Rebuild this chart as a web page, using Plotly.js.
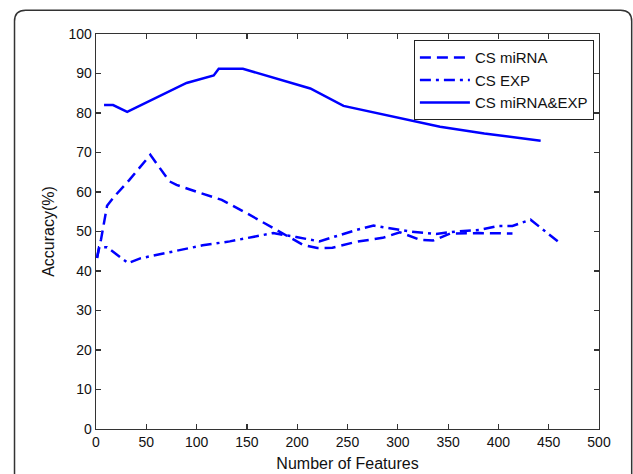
<!DOCTYPE html>
<html>
<head>
<meta charset="utf-8">
<script src="https://cdn.plot.ly/plotly-3.0.1.min.js"></script>
<style>html,body{margin:0;padding:0;background:#fff;}#chart{width:633px;height:474px;}</style>
</head>
<body>
<div id="chart"></div>
<script>
// Series names
const seriesNames = ["CS miRNA", "CS EXP", "CS miRNA&EXP"];

// CS miRNA (dashed)
const mirnaX = [1, 5, 11, 18, 33, 54, 73, 80, 103, 125, 150, 183, 206, 220, 235, 259, 285, 302, 322, 335, 352, 381, 414];
const mirnaY = [43.3, 48, 56.5, 58.8, 63, 69.4, 62.7, 61.8, 59.8, 58, 54.6, 50, 46.6, 45.8, 45.9, 47.4, 48.4, 49.8, 47.9, 47.7, 49.5, 49.6, 49.5];

// CS EXP (dash-dot)
const expX = [1, 3, 11, 32, 44, 76, 106, 133, 150, 176, 199, 222, 259, 276, 292, 312, 338, 358, 381, 400, 414, 432, 459];
const expY = [43.3, 46, 46, 42, 43.2, 44.9, 46.5, 47.5, 48.3, 49.6, 48.6, 47.5, 50.4, 51.5, 50.8, 50, 49.4, 50, 50.4, 51.4, 51.4, 53, 47.5];

// CS miRNA&EXP (solid)
const bothX = [8, 17, 31, 53, 70, 90, 117, 122, 146, 180, 213, 246, 270, 302, 342, 386, 442];
const bothY = [82, 82, 80.3, 83, 85, 87.6, 89.5, 91.2, 91.2, 88.6, 86.2, 81.8, 80.5, 78.7, 76.5, 74.8, 73];

// Axis ticks
const xTicks = [0, 50, 100, 150, 200, 250, 300, 350, 400, 450, 500];
const yTicks = [0, 10, 20, 30, 40, 50, 60, 70, 80, 90, 100];

const blue = "#0000ff";
const traces = [
  {x: mirnaX, y: mirnaY, name: seriesNames[0], mode: "lines",
   line: {color: blue, width: 2.5, dash: "11px,6px"}},
  {x: expX, y: expY, name: seriesNames[1], mode: "lines",
   line: {color: blue, width: 2.5, dash: "11px,5px,3px,5px"}},
  {x: bothX, y: bothY, name: seriesNames[2], mode: "lines",
   line: {color: blue, width: 2.5}}
];

const axisCommon = {
  showgrid: false, zeroline: false, showline: true, linecolor: "#333",
  linewidth: 1.3, mirror: "ticks", ticks: "inside", ticklen: 5,
  tickcolor: "#333", tickwidth: 1.2,
  tickfont: {family: "Liberation Sans, Arial, sans-serif", size: 14, color: "#111"}
};

// Rounded outer frame (paper coords)
const L = -0.162, R = 1.065, T = 1.06, B = -0.2, rx = 0.022, ry = 0.028;
const framePath = `M ${L},${B} L ${L},${T-ry} Q ${L},${T} ${L+rx},${T} L ${R-rx},${T} Q ${R},${T} ${R},${T-ry} L ${R},${B}`;

const layout = {
  width: 633, height: 474,
  margin: {l: 96, r: 34, t: 34, b: 45},
  paper_bgcolor: "#fff", plot_bgcolor: "#fff",
  font: {family: "Liberation Sans, Arial, sans-serif", color: "#111"},
  showlegend: true,
  legend: {
    x: 0.632, y: 0.984, xanchor: "left", yanchor: "top",
    bordercolor: "#222", borderwidth: 1, bgcolor: "#fff",
    font: {size: 15, color: "#111"}, tracegroupgap: 0,
    itemwidth: 50
  },
  xaxis: Object.assign({}, axisCommon, {
    range: [0, 500], tickvals: xTicks, ticktext: xTicks.map(String),
    title: {text: "Number of Features", font: {size: 16, color: "#111"}, standoff: 8}
  }),
  yaxis: Object.assign({}, axisCommon, {
    range: [0, 100], tickvals: yTicks, ticktext: yTicks.map(String),
    title: {text: "Accuracy(%)", font: {size: 16, color: "#111"}, standoff: 10}
  }),
  shapes: [{
    type: "path", xref: "paper", yref: "paper", path: framePath,
    line: {color: "#333", width: 1.5}, layer: "below"
  }]
};

Plotly.newPlot("chart", traces, layout, {staticPlot: true, displayModeBar: false});
</script>
</body>
</html>
